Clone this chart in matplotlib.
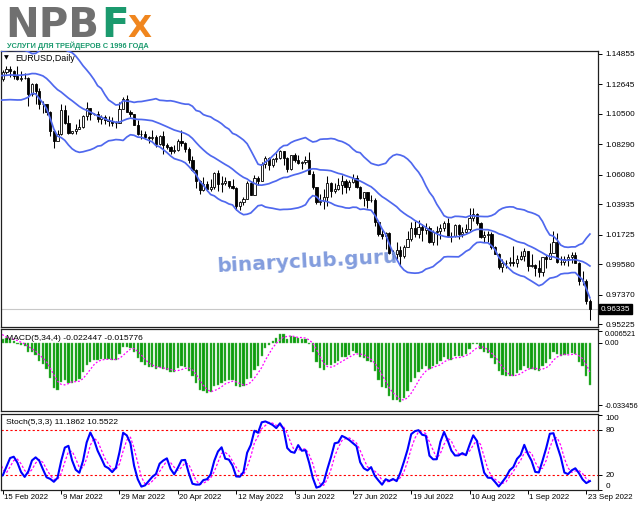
import numpy as np
import pandas as pd
import matplotlib
matplotlib.use("Agg")
import matplotlib.pyplot as plt
from matplotlib.transforms import blended_transform_factory

plt.rcParams['font.family'] = ['Liberation Sans', 'DejaVu Sans']

# EURUSD daily bars. The first 41 rows (20 Dec 2021 - 14 Feb 2022) sit left of the
# visible window and only feed the indicators, like the terminal's history does.
n_hist = 41
opens = [
    1.1239, 1.1282, 1.1284, 1.1327, 1.1328, 1.1320, 1.1327, 1.1311, 1.1350, 1.1326,
    1.1370, 1.1296, 1.1288, 1.1313, 1.1296, 1.1360, 1.1325, 1.1368, 1.1441, 1.1455,
    1.1413, 1.1407, 1.1325, 1.1343, 1.1312, 1.1344, 1.1326, 1.1303, 1.1240, 1.1145,
    1.1146, 1.1234, 1.1270, 1.1303, 1.1441, 1.1455, 1.1440, 1.1416, 1.1423, 1.1427,
    1.1350,
    # 15 Feb 2022 ->
    1.1307, 1.1357, 1.1376, 1.1361, 1.1323, 1.1307, 1.1308, 1.1310, 1.1192, 1.1269,
    1.1219, 1.1125, 1.1120, 1.1067, 1.0929, 1.0855, 1.0904, 1.1077, 1.0985, 1.0913,
    1.0925, 1.0942, 1.0956, 1.1033, 1.1093, 1.1050, 1.1048, 1.1016, 1.1031, 1.1004,
    1.0998, 1.0983, 1.0984, 1.1088, 1.1159, 1.1067, 1.1047, 1.0971, 1.0904, 1.0902,
    1.0880, 1.0877, 1.0885, 1.0829, 1.0890, 1.0827, 1.0810, 1.0781, 1.0787, 1.0851,
    1.0838, 1.0796, 1.0716, 1.0640, 1.0560, 1.0500, 1.0545, 1.0507, 1.0522, 1.0620,
    1.0540, 1.0550, 1.0561, 1.0530, 1.0512, 1.0380, 1.0410, 1.0436, 1.0550, 1.0465,
    1.0587, 1.0563, 1.0690, 1.0734, 1.0680, 1.0724, 1.0733, 1.0780, 1.0733, 1.0650,
    1.0750, 1.0719, 1.0695, 1.0703, 1.0717, 1.0615, 1.0520, 1.0410, 1.0415, 1.0445,
    1.0550, 1.0494, 1.0508, 1.0535, 1.0567, 1.0520, 1.0555, 1.0585, 1.0518, 1.0443,
    1.0484, 1.0425, 1.0425, 1.0265, 1.0182, 1.0161, 1.0186, 1.0039, 1.0036, 1.0060,
    1.0018, 1.0084, 1.0144, 1.0226, 1.0180, 1.0229, 1.0211, 1.0222, 1.0120, 1.0197,
    1.0198, 1.0220, 1.0259, 1.0165, 1.0166, 1.0245, 1.0180, 1.0196, 1.0213, 1.0297,
    1.0322, 1.0258, 1.0160, 1.0170, 1.0180, 1.0086, 1.0037, 0.9943, 0.9966, 0.9968,
    0.9973, 0.9965, 1.0000, 1.0017, 1.0054, 0.9945, 0.9955, 0.9930, 0.9903, 1.0009,
    1.0001, 1.0040, 1.0121, 0.9977, 0.9978, 0.9999, 1.0014, 1.0025, 0.9970, 0.9837,
    0.9838, 0.9690,
]
highs = [
    1.1303, 1.1299, 1.1342, 1.1343, 1.1335, 1.1334, 1.1330, 1.1369, 1.1360, 1.1386,
    1.1378, 1.1322, 1.1346, 1.1320, 1.1364, 1.1361, 1.1374, 1.1446, 1.1482, 1.1465,
    1.1428, 1.1410, 1.1369, 1.1370, 1.1363, 1.1346, 1.1327, 1.1312, 1.1245, 1.1153,
    1.1240, 1.1274, 1.1320, 1.1450, 1.1484, 1.1454, 1.1449, 1.1448, 1.1495, 1.1446,
    1.1366,
    1.1368, 1.1395, 1.1395, 1.1370, 1.1395, 1.1360, 1.1345, 1.1320, 1.1274, 1.1275,
    1.1235, 1.1145, 1.1122, 1.1070, 1.0944, 1.0935, 1.1121, 1.1113, 1.1043, 1.0930,
    1.0980, 1.1015, 1.1040, 1.1137, 1.1092, 1.1060, 1.1068, 1.1046, 1.1043, 1.1037,
    1.1030, 1.0996, 1.1138, 1.1170, 1.1185, 1.1076, 1.1049, 1.1006, 1.0937, 1.0929,
    1.0893, 1.0935, 1.0894, 1.0900, 1.0924, 1.0837, 1.0819, 1.0822, 1.0866, 1.0936,
    1.0847, 1.0807, 1.0743, 1.0650, 1.0570, 1.0593, 1.0563, 1.0581, 1.0630, 1.0641,
    1.0598, 1.0592, 1.0563, 1.0577, 1.0523, 1.0418, 1.0444, 1.0563, 1.0565, 1.0607,
    1.0597, 1.0698, 1.0748, 1.0737, 1.0734, 1.0765, 1.0787, 1.0780, 1.0737, 1.0752,
    1.0765, 1.0750, 1.0710, 1.0748, 1.0774, 1.0638, 1.0523, 1.0470, 1.0506, 1.0601,
    1.0555, 1.0546, 1.0583, 1.0605, 1.0580, 1.0570, 1.0615, 1.0606, 1.0530, 1.0487,
    1.0486, 1.0463, 1.0440, 1.0275, 1.0212, 1.0190, 1.0190, 1.0064, 1.0122, 1.0095,
    1.0096, 1.0200, 1.0269, 1.0273, 1.0278, 1.0255, 1.0258, 1.0235, 1.0210, 1.0235,
    1.0254, 1.0274, 1.0293, 1.0195, 1.0254, 1.0250, 1.0228, 1.0248, 1.0368, 1.0364,
    1.0330, 1.0268, 1.0200, 1.0202, 1.0190, 1.0094, 1.0039, 0.9999, 0.9990, 1.0010,
    1.0090, 1.0028, 1.0054, 1.0079, 1.0056, 1.0034, 0.9963, 0.9990, 1.0011, 1.0030,
    1.0113, 1.0198, 1.0187, 1.0020, 1.0017, 1.0036, 1.0050, 1.0051, 0.9976, 0.9907,
    0.9852, 0.9705,
]
lows = [
    1.1222, 1.1262, 1.1260, 1.1302, 1.1314, 1.1306, 1.1293, 1.1269, 1.1300, 1.1315,
    1.1284, 1.1272, 1.1286, 1.1285, 1.1292, 1.1285, 1.1314, 1.1357, 1.1433, 1.1398,
    1.1394, 1.1318, 1.1313, 1.1307, 1.1308, 1.1300, 1.1262, 1.1235, 1.1130, 1.1121,
    1.1140, 1.1225, 1.1265, 1.1268, 1.1412, 1.1420, 1.1393, 1.1404, 1.1375, 1.1340,
    1.1280,
    1.1290, 1.1337, 1.1315, 1.1306, 1.1300, 1.1290, 1.1305, 1.1106, 1.1180, 1.1120,
    1.1089, 1.1055, 1.1040, 1.0890, 1.0806, 1.0859, 1.0900, 1.0980, 1.0905, 1.0905,
    1.0905, 1.0938, 1.0945, 1.1004, 1.1005, 1.1040, 1.0990, 1.0980, 1.0980, 1.0965,
    1.0964, 1.0945, 1.0983, 1.1085, 1.1065, 1.1026, 1.0970, 1.0900, 1.0870, 1.0866,
    1.0836, 1.0860, 1.0810, 1.0822, 1.0757, 1.0799, 1.0760, 1.0770, 1.0780, 1.0820,
    1.0771, 1.0697, 1.0635, 1.0515, 1.0470, 1.0493, 1.0490, 1.0493, 1.0505, 1.0493,
    1.0483, 1.0535, 1.0516, 1.0505, 1.0355, 1.0350, 1.0389, 1.0436, 1.0460, 1.0460,
    1.0532, 1.0560, 1.0660, 1.0642, 1.0664, 1.0700, 1.0725, 1.0680, 1.0627, 1.0640,
    1.0700, 1.0690, 1.0653, 1.0690, 1.0614, 1.0508, 1.0398, 1.0390, 1.0359, 1.0382,
    1.0445, 1.0478, 1.0500, 1.0470, 1.0473, 1.0500, 1.0550, 1.0510, 1.0430, 1.0382,
    1.0366, 1.0410, 1.0235, 1.0161, 1.0144, 1.0072, 1.0033, 0.9998, 0.9999, 0.9952,
    1.0003, 1.0081, 1.0125, 1.0160, 1.0153, 1.0130, 1.0182, 1.0110, 1.0100, 1.0097,
    1.0145, 1.0200, 1.0160, 1.0124, 1.0154, 1.0142, 1.0160, 1.0187, 1.0200, 1.0275,
    1.0245, 1.0150, 1.0122, 1.0122, 1.0072, 1.0031, 0.9927, 0.9900, 0.9930, 0.9950,
    0.9950, 0.9940, 0.9990, 0.9985, 0.9910, 0.9940, 0.9877, 0.9864, 0.9876, 0.9929,
    0.9998, 1.0040, 0.9966, 0.9955, 0.9955, 0.9945, 0.9967, 0.9965, 0.9810, 0.9807,
    0.9668, 0.9553,
]
closes = [
    1.1282, 1.1284, 1.1327, 1.1328, 1.1320, 1.1327, 1.1311, 1.1350, 1.1326, 1.1370,
    1.1296, 1.1288, 1.1313, 1.1296, 1.1360, 1.1325, 1.1368, 1.1441, 1.1455, 1.1413,
    1.1407, 1.1325, 1.1343, 1.1312, 1.1344, 1.1326, 1.1303, 1.1240, 1.1145, 1.1146,
    1.1234, 1.1270, 1.1303, 1.1441, 1.1455, 1.1440, 1.1416, 1.1423, 1.1427, 1.1350,
    1.1307,
    1.1357, 1.1376, 1.1361, 1.1323, 1.1307, 1.1308, 1.1310, 1.1192, 1.1269, 1.1219,
    1.1125, 1.1120, 1.1067, 1.0929, 1.0855, 1.0904, 1.1077, 1.0985, 1.0913, 1.0925,
    1.0942, 1.0956, 1.1033, 1.1093, 1.1050, 1.1048, 1.1016, 1.1031, 1.1004, 1.0998,
    1.0983, 1.0984, 1.1088, 1.1159, 1.1067, 1.1047, 1.0971, 1.0904, 1.0902, 1.0880,
    1.0877, 1.0885, 1.0829, 1.0890, 1.0827, 1.0810, 1.0781, 1.0787, 1.0851, 1.0838,
    1.0796, 1.0716, 1.0640, 1.0560, 1.0500, 1.0545, 1.0507, 1.0522, 1.0620, 1.0540,
    1.0550, 1.0561, 1.0530, 1.0512, 1.0380, 1.0410, 1.0436, 1.0550, 1.0465, 1.0587,
    1.0563, 1.0690, 1.0734, 1.0680, 1.0724, 1.0733, 1.0780, 1.0733, 1.0650, 1.0750,
    1.0719, 1.0695, 1.0703, 1.0717, 1.0615, 1.0520, 1.0410, 1.0415, 1.0445, 1.0550,
    1.0494, 1.0508, 1.0535, 1.0567, 1.0520, 1.0555, 1.0585, 1.0518, 1.0443, 1.0484,
    1.0425, 1.0425, 1.0265, 1.0182, 1.0161, 1.0186, 1.0039, 1.0036, 1.0060, 1.0018,
    1.0084, 1.0144, 1.0226, 1.0180, 1.0229, 1.0211, 1.0222, 1.0120, 1.0197, 1.0198,
    1.0220, 1.0259, 1.0165, 1.0166, 1.0245, 1.0180, 1.0196, 1.0213, 1.0297, 1.0322,
    1.0258, 1.0160, 1.0170, 1.0180, 1.0086, 1.0037, 0.9943, 0.9966, 0.9968, 0.9973,
    0.9965, 1.0000, 1.0017, 1.0054, 0.9945, 0.9955, 0.9930, 0.9903, 1.0009, 1.0001,
    1.0040, 1.0121, 0.9977, 0.9978, 0.9999, 1.0014, 1.0025, 0.9970, 0.9837, 0.9838,
    0.9690, 0.96335,
]

price_ticks = [1.14855, 1.12645, 1.10500, 1.08290, 1.06080, 1.03935, 1.01725, 0.99580, 0.97370, 0.95225]
last_price = 0.96335
date_labels = ['15 Feb 2022', '9 Mar 2022', '29 Mar 2022', '20 Apr 2022', '12 May 2022', '3 Jun 2022',
               '27 Jun 2022', '19 Jul 2022', '10 Aug 2022', '1 Sep 2022', '23 Sep 2022']
date_label_bars = [0, 16, 32, 48, 64, 80, 96, 112, 128, 144, 160]
macd_ticks = [0.006521, 0.0, -0.033456]
macd_tick_labels = ['0.006521', '0.00', '-0.033456']
stoch_ticks = [100, 80, 20, 0]
macd_title = 'MACD(5,34,4) -0.022447 -0.015776'
stoch_title = 'Stoch(5,3,3) 11.1862 10.5522'
symbol_title = 'EURUSD,Daily'

df = pd.DataFrame({'o': opens, 'h': highs, 'l': lows, 'c': closes})
x = np.arange(len(df)) - n_hist

# indicators as the terminal computes them
bb_mid = df.c.rolling(20).mean()
bb_sd = df.c.rolling(20).std(ddof=0)
bb_up = bb_mid + 2 * bb_sd
bb_lo = bb_mid - 2 * bb_sd
macd = df.c.ewm(span=5, adjust=False).mean() - df.c.ewm(span=34, adjust=False).mean()
macd_sig = macd.rolling(4).mean()
ll = df.l.rolling(5).min()
hh = df.h.rolling(5).max()
st_k = (df.c - ll).rolling(3).sum() / (hh - ll).rolling(3).sum() * 100
st_d = st_k.rolling(3).mean()

W, H = 639, 508
fig = plt.figure(figsize=(W / 100, H / 100), dpi=100)
fig.patch.set_facecolor('white')


def box(top, bottom):
    return [0.8 / W, 1 - bottom / H, 597.5 / W, (bottom - top) / H]


ax1 = fig.add_axes(box(51, 327))
ax2 = fig.add_axes(box(329, 411))
ax3 = fig.add_axes(box(414, 490))
xlim = (-0.55, 163.3)

for ax in (ax1, ax2, ax3):
    ax.set_xlim(*xlim)
    ax.set_facecolor('white')
    for s in ax.spines.values():
        s.set_color('#202020')
        s.set_linewidth(0.9)
    ax.yaxis.tick_right()
    ax.tick_params(axis='y', direction='out', length=3, width=0.7, pad=2, labelsize=5.9)
    ax.set_xticks([])

# --- main price panel ---
vis = x >= -2
xv = x[vis]
d = df[vis]
bull = (d.c >= d.o).values
ax1.axhline(last_price, color='#c8c8c8', lw=0.8, zorder=1)
ax1.vlines(xv, d.l, d.h, color='black', lw=0.75, zorder=2)
ax1.bar(xv[bull], (d.c - d.o)[bull], bottom=d.o[bull], width=0.6, color='white',
        edgecolor='black', linewidth=0.6, zorder=3)
ax1.bar(xv[~bull], (d.c - d.o)[~bull], bottom=d.o[~bull], width=0.6, color='black',
        edgecolor='black', linewidth=0.6, zorder=3)
for band in (bb_up, bb_mid, bb_lo):
    ax1.plot(x, band, color='#4f68ee', lw=1.25, zorder=4)
ax1.set_ylim(0.9504, 1.1507)
ax1.set_yticks(price_ticks)
ax1.set_yticklabels([f'{p:.5f}' for p in price_ticks])
tr1 = blended_transform_factory(ax1.transAxes, ax1.transData)
ax1.text(1.004, last_price, f'{last_price:.5f}', transform=tr1, fontsize=5.9, color='white',
         va='center', ha='left', bbox=dict(boxstyle='square,pad=0.2', fc='black', ec='black'))
ax1.text(0.006, 0.985, '\u25bc', transform=ax1.transAxes, fontsize=4.5, va='top', ha='left',
         family='DejaVu Sans')
ax1.text(0.024, 0.988, symbol_title, transform=ax1.transAxes, fontsize=6.4, va='top', ha='left')
fig.text(307 / W, 1 - 262 / H, 'binaryclub.guru', fontsize=14.5, fontweight='bold', color='#7592da',
         family='DejaVu Sans', ha='center', va='center', rotation=3, alpha=0.9, zorder=10)

# --- MACD panel ---
ax2.bar(x, macd, width=0.62, color='#0c9c0c', edgecolor='#5cc05c', linewidth=0.3)
ax2.plot(x, macd_sig, color='#ff00ff', lw=0.9, linestyle=(0, (1.5, 1.5)))
ax2.set_ylim(-0.03669, 0.00755)
ax2.set_yticks(macd_ticks)
ax2.set_yticklabels(macd_tick_labels)
ax2.tick_params(axis='y', labelsize=5.4, pad=1.5)
ax2.get_yticklabels()[0].set_va('top')
ax2.text(0.008, 0.93, macd_title, transform=ax2.transAxes, fontsize=6.1, va='top', ha='left')

# --- Stochastic panel ---
for lvl in (80, 20):
    ax3.axhline(lvl, color='#ff0000', lw=0.8, linestyle=(0, (2, 2)))
ax3.plot(x, st_d, color='#ff00ff', lw=0.9, linestyle=(0, (2, 1.5)))
ax3.plot(x, st_k, color='#0000ff', lw=1.5)
ax3.set_ylim(0, 101.3)
ax3.set_yticks(stoch_ticks)
ax3.set_yticklabels([str(v) for v in stoch_ticks])
ax3.get_yticklabels()[0].set_va('top')
ax3.get_yticklabels()[3].set_va('bottom')
ax3.text(0.008, 0.93, stoch_title, transform=ax3.transAxes, fontsize=6.1, va='top', ha='left')
ax3.set_xticks(date_label_bars)
ax3.set_xticklabels([])
ax3.tick_params(axis='x', direction='out', length=3, width=0.7)
tr3 = blended_transform_factory(ax3.transData, ax3.transAxes)
for b, lab in zip(date_label_bars, date_labels):
    ax3.text(b + 0.4, -0.05, lab, transform=tr3, fontsize=5.7, va='top', ha='left')

# --- logo ---
fig.text(5 / W, 1 - 37 / H, 'NPB', fontsize=29, fontweight='bold', color='#707070',
         family='DejaVu Sans', va='baseline', ha='left')
fig.text(101 / W, 1 - 37 / H, 'F', fontsize=29, fontweight='bold', color='#1b9a6e',
         family='DejaVu Sans', va='baseline', ha='left')
fig.text(127 / W, 1 - 37 / H, 'X', fontsize=22.5, fontweight='bold', color='#f0861e',
         family='DejaVu Sans', va='baseline', ha='left')
fig.text(7 / W, 1 - 45.5 / H, 'УСЛУГИ ДЛЯ ТРЕЙДЕРОВ С 1996 ГОДА', fontsize=5.3, fontweight='bold',
         color='#1b9a6e', va='center', ha='left')

fig.savefig('out.png', dpi=100)
